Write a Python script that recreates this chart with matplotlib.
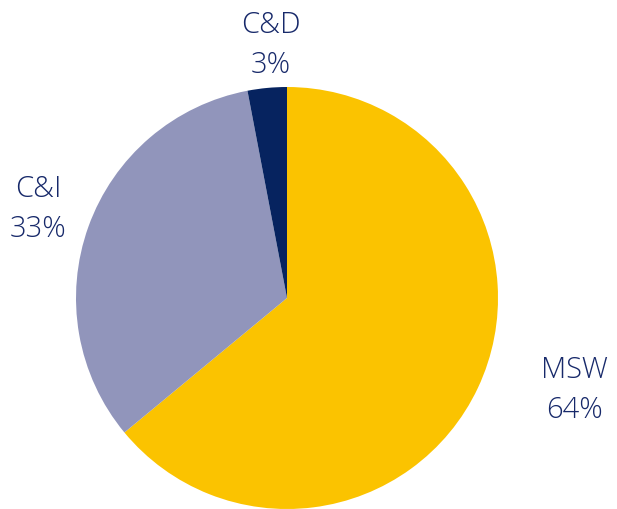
import matplotlib
matplotlib.use("Agg")
import matplotlib.pyplot as plt

categories = ["MSW", "C&I", "C&D"]
values = [64, 33, 3]
colors = ["#FBC300", "#9195BB", "#06235F"]
label_pos = {"MSW": (574, 390), "C&I": (38, 209), "C&D": (271, 45)}

W, H = 617, 509
fig = plt.figure(figsize=(W / 100, H / 100), dpi=100)
cx, cy, r = 287, 298, 211
ax = fig.add_axes([(cx - r) / W, (H - cy - r) / H, 2 * r / W, 2 * r / H])
ax.pie(values, colors=colors, startangle=90, counterclock=False, radius=1,
       wedgeprops=dict(linewidth=0))
ax.set_xlim(-1, 1)
ax.set_ylim(-1, 1)
ax.set_aspect("equal")
ax.axis("off")

for cat, val in zip(categories, values):
    x, y = label_pos[cat]
    fig.text(x / W, 1 - y / H, f"{cat}\n{val}%", ha="center", va="center",
             fontsize=21, color="#17296A", family=["Open Sans", "DejaVu Sans"],
             weight="light", linespacing=1.45)

fig.savefig("out.png", dpi=100)
